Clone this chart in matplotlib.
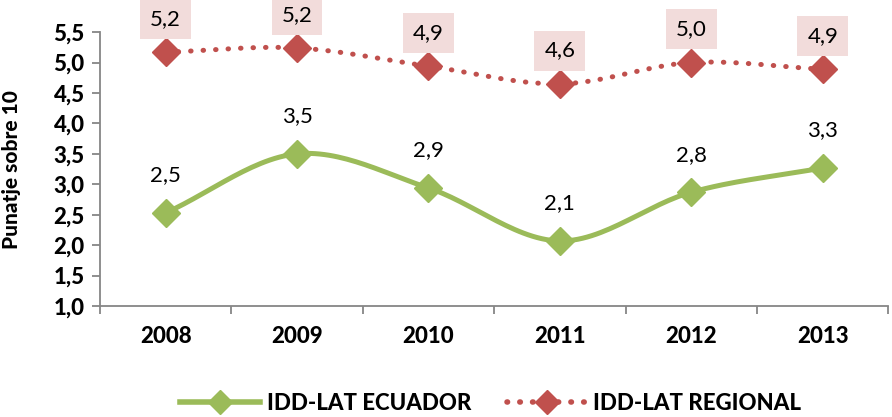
import numpy as np
import matplotlib
matplotlib.use("Agg")
import matplotlib.pyplot as plt

plt.rcParams['font.family'] = ['Lato', 'DejaVu Sans']

years = ['2008', '2009', '2010', '2011', '2012', '2013']
ecuador = [2.53, 3.50, 2.94, 2.07, 2.87, 3.27]
regional = [5.17, 5.24, 4.94, 4.65, 5.00, 4.89]
ecuador_labels = ['2,5', '3,5', '2,9', '2,1', '2,8', '3,3']
regional_labels = ['5,2', '5,2', '4,9', '4,6', '5,0', '4,9']

green = '#9BBB59'
red = '#C0504D'
pink = '#F2DCDB'


def smooth(xs, ys, n=30):
    # Catmull-Rom curve through the points, like Excel's smoothed line
    xs = np.asarray(xs, float)
    ys = np.asarray(ys, float)
    px = np.concatenate([[2 * xs[0] - xs[1]], xs, [2 * xs[-1] - xs[-2]]])
    py = np.concatenate([[2 * ys[0] - ys[1]], ys, [2 * ys[-1] - ys[-2]]])
    ox, oy = [], []
    for i in range(1, len(px) - 2):
        t = np.linspace(0, 1, n)
        for p, o in ((px, ox), (py, oy)):
            p0, p1, p2, p3 = p[i - 1], p[i], p[i + 1], p[i + 2]
            o.extend(0.5 * ((2 * p1) + (-p0 + p2) * t
                            + (2 * p0 - 5 * p1 + 4 * p2 - p3) * t ** 2
                            + (-p0 + 3 * p1 - 3 * p2 + p3) * t ** 3))
    return ox, oy


fig = plt.figure(figsize=(8.92, 4.17), dpi=100)
ax = fig.add_axes([0.112, 0.266, 0.884, 0.657])

x = np.arange(len(years))
sx, sy = smooth(x, ecuador)
ax.plot(sx, sy, color=green, lw=3.6, solid_capstyle='round', zorder=2)
ax.plot(x, ecuador, ls='none', marker='D', ms=14, color=green, zorder=3)
rx, ry = smooth(x, regional)
ax.plot(rx, ry, color=red, lw=3.6, ls=(0, (0.1, 2.4)), dash_capstyle='round', zorder=2)
ax.plot(x, regional, ls='none', marker='D', ms=14, color=red, zorder=3)

for xi, v, lab in zip(x, ecuador, ecuador_labels):
    ax.annotate(lab, (xi, v), xytext=(0, 27), textcoords='offset points',
                ha='center', va='center', fontsize=16, color='black')
for xi, v, lab in zip(x, regional, regional_labels):
    ax.annotate(lab, (xi, v), xytext=(0, 24), textcoords='offset points',
                ha='center', va='center', fontsize=16, color='black',
                bbox=dict(boxstyle='square,pad=0.45', fc=pink, ec='none'))

# legend handles
ax.plot([], [], color=green, lw=4, marker='D', ms=12, label='IDD-LAT ECUADOR')
ax.plot([], [], color=red, lw=4, ls=(0, (0.1, 2.2)), dash_capstyle='round',
        marker='D', ms=12, label='IDD-LAT REGIONAL')
handles, labels = ax.get_legend_handles_labels()
fig.legend(handles, labels, loc='center', bbox_to_anchor=(0.55, 0.033), ncol=2,
           frameon=False, handlelength=3.6, handletextpad=0.3, columnspacing=1.6,
           prop=dict(weight='black', size=16))

ax.set_xlim(-0.5, len(years) - 0.5)
ax.set_ylim(1.0, 5.5)
ax.set_yticks(np.arange(1.0, 5.51, 0.5))
ax.set_yticklabels([f'{v:.1f}'.replace('.', ',') for v in np.arange(1.0, 5.51, 0.5)])
ax.set_xticks(x)
ax.set_xticklabels(years)
ax.set_xticks(np.arange(-0.5, len(years)), minor=True)
ax.tick_params(axis='x', which='major', length=0, pad=14)
ax.tick_params(axis='x', which='minor', length=6, color='#868686', width=1.3)
ax.tick_params(axis='y', length=6, color='#868686', width=1.3, direction='out', pad=5)
for lab in ax.get_xticklabels() + ax.get_yticklabels():
    lab.set_fontweight('black')
    lab.set_fontsize(16)
ax.spines['top'].set_visible(False)
ax.spines['right'].set_visible(False)
for s in ('left', 'bottom'):
    ax.spines[s].set_color('#868686')
    ax.spines[s].set_linewidth(1.3)
ax.set_ylabel('Punatje sobre 10', fontsize=15, fontweight='black')
ax.yaxis.set_label_coords(-0.1, 0.5)

fig.savefig('out.png', dpi=100)
